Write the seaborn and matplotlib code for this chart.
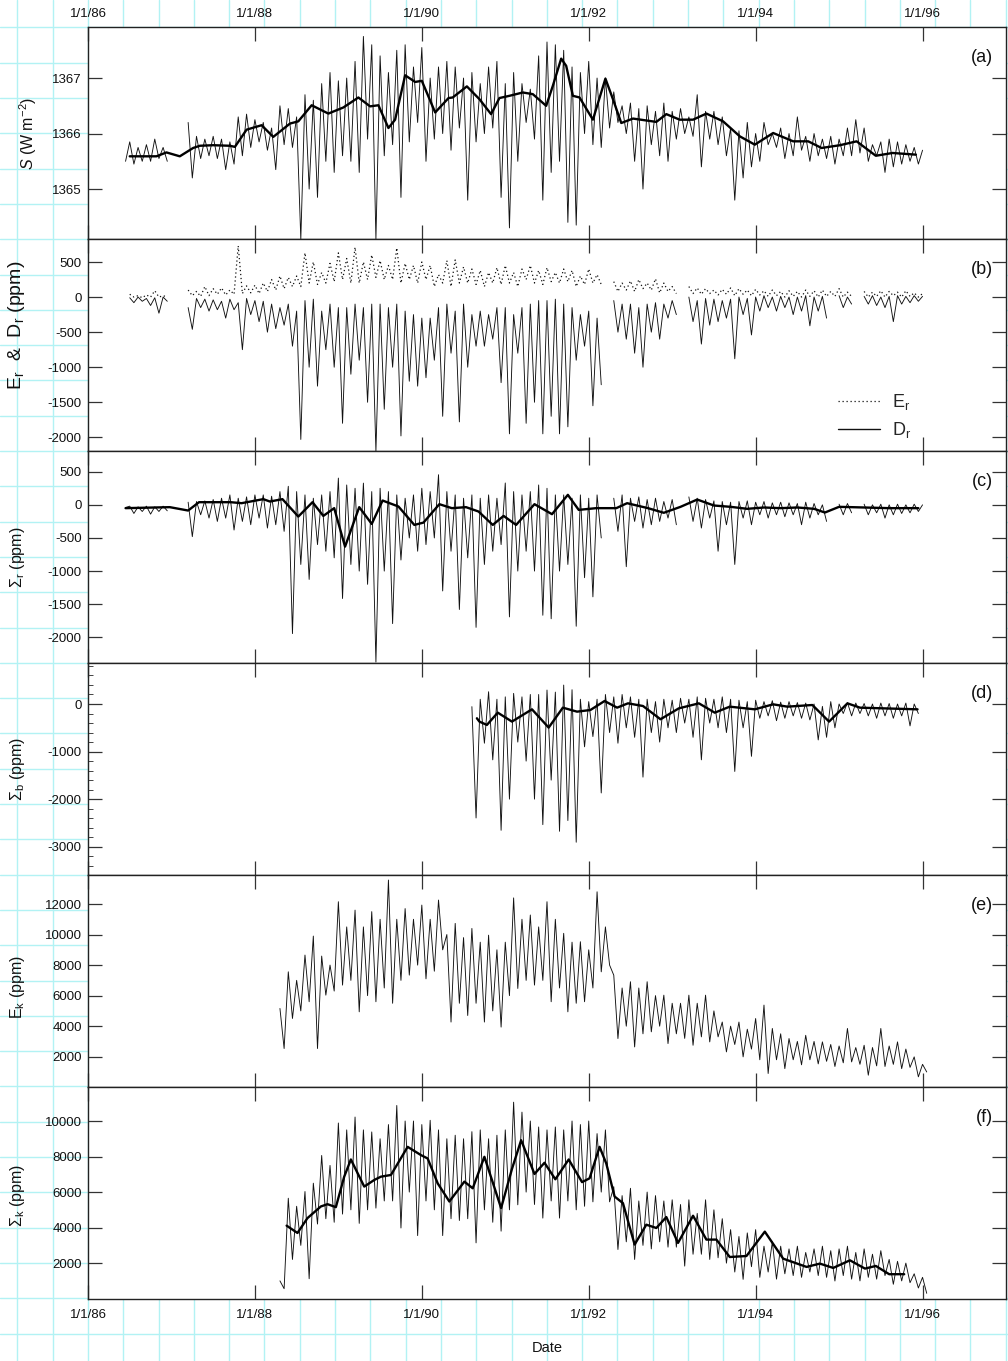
import numpy as np
import pandas as pd
import matplotlib
matplotlib.use("Agg")
import matplotlib.pyplot as plt
from matplotlib.lines import Line2D
from matplotlib.ticker import MultipleLocator
import seaborn as sns

nan = np.nan

# ---------------- data ----------------
# sampling grid of the daily records (decimal years, 0.1 yr cells; hi at cell start, lo at mid-cell)
grid_start, grid_step, grid_n = 1986.4, 0.1, 97

year_ticks = [1986, 1988, 1990, 1992, 1994, 1996]
year_labels = ["1/1/86", "1/1/88", "1/1/90", "1/1/92", "1/1/94", "1/1/96"]

# (a) total solar irradiance S (W m-2): upper / lower excursions per cell
a_hi = [nan, 1365.85, 1365.75, 1365.80, 1365.90, 1365.75,
        nan, nan, 1366.20, 1365.95, 1365.90, 1365.95, 1365.90, 1365.85, 1366.30, 1366.35,
        1366.25, 1366.20, 1366.10, 1366.50, 1366.45, 1366.30, 1366.70, 1366.60, 1366.90, 1367.10,
        1366.95, 1367.00, 1367.30, 1367.75, 1367.60, 1367.40, 1367.10, 1367.50, 1367.60, 1367.20,
        1367.55, 1367.00, 1367.20, 1367.30, 1367.20, 1367.00, 1367.10, 1366.90, 1367.20, 1367.30,
        1366.90, 1367.10, 1366.90, 1366.80, 1367.40, 1367.65, 1367.60, 1367.50, 1367.20, 1367.10,
        1367.30, 1367.00, 1367.00, 1366.75, 1366.50, 1366.55, 1366.45, 1366.50, 1366.40, 1366.55,
        1366.40, 1366.45, 1366.30, 1366.70, 1366.40, 1366.40, 1366.30, 1366.10, 1366.05, 1366.20,
        1366.00, 1366.20, 1366.00, 1366.10, 1366.00, 1366.30, 1365.95, 1366.00, 1365.90, 1365.95,
        1365.90, 1366.10, 1366.25, 1366.10, 1365.80, 1365.85, 1365.90, 1365.85, 1365.80, 1365.75,
        1365.70]
a_lo = [1365.50, 1365.45, 1365.50, 1365.50, 1365.55, 1365.50,
        nan, nan, 1365.20, 1365.55, 1365.60, 1365.55, 1365.35, 1365.45, 1365.60, 1365.75,
        1365.85, 1365.70, 1365.35, 1365.80, 1365.75, 1364.10, 1365.00, 1364.85, 1365.50, 1365.30,
        1365.60, 1365.50, 1365.30, 1365.90, 1364.10, 1365.60, 1365.80, 1364.85, 1365.85, 1366.20,
        1365.50, 1365.90, 1366.00, 1365.70, 1366.10, 1364.80, 1365.85, 1366.00, 1366.10, 1364.85,
        1364.30, 1365.50, 1366.20, 1365.90, 1364.80, 1365.30, 1365.50, 1364.40, 1364.35, 1366.00,
        1365.80, 1365.75, 1366.10, 1366.20, 1366.00, 1365.50, 1365.00, 1365.80, 1365.60, 1365.50,
        1365.90, 1366.00, 1365.95, 1365.40, 1365.90, 1365.80, 1365.60, 1364.80, 1365.20, 1365.40,
        1365.50, 1365.80, 1365.75, 1365.55, 1365.60, 1365.70, 1365.50, 1365.60, 1365.55, 1365.45,
        1365.60, 1365.60, 1365.65, 1365.50, 1365.60, 1365.30, 1365.40, 1365.45, 1365.50, 1365.45,
        nan]
a_smooth = [(1986.50, 1365.59), (1986.82, 1365.59), (1986.94, 1365.66), (1987.10, 1365.59),
            (1987.26, 1365.74), (1987.34, 1365.78), (1987.50, 1365.79), (1987.70, 1365.78),
            (1987.76, 1365.76), (1987.90, 1366.07), (1988.08, 1366.15), (1988.22, 1365.94),
            (1988.42, 1366.18), (1988.52, 1366.22), (1988.68, 1366.51), (1988.88, 1366.36),
            (1989.06, 1366.47), (1989.24, 1366.65), (1989.38, 1366.49), (1989.48, 1366.51),
            (1989.60, 1366.10), (1989.68, 1366.25), (1989.80, 1367.05), (1989.92, 1366.93),
            (1990.00, 1366.95), (1990.16, 1366.38), (1990.32, 1366.64), (1990.37, 1366.65),
            (1990.54, 1366.85), (1990.69, 1366.62), (1990.83, 1366.35), (1990.93, 1366.64),
            (1991.05, 1366.68), (1991.21, 1366.74), (1991.33, 1366.71), (1991.49, 1366.50),
            (1991.57, 1366.86), (1991.67, 1367.35), (1991.73, 1367.22), (1991.81, 1366.68),
            (1991.89, 1366.65), (1992.05, 1366.25), (1992.20, 1366.99), (1992.29, 1366.62),
            (1992.39, 1366.19), (1992.53, 1366.27), (1992.81, 1366.21), (1992.93, 1366.35),
            (1993.09, 1366.25), (1993.25, 1366.25), (1993.41, 1366.36), (1993.61, 1366.22),
            (1993.81, 1365.95), (1993.99, 1365.80), (1994.21, 1366.01), (1994.45, 1365.86),
            (1994.63, 1365.86), (1994.79, 1365.74), (1995.01, 1365.79), (1995.21, 1365.86),
            (1995.44, 1365.60), (1995.64, 1365.65), (1995.92, 1365.62)]

# (b) D_r (solid) and E_r (dotted), ppm
dr_hi = [nan, -10, 0, -20, -10, 0,
         nan, nan, -150, -20, -30, -40, -60, -30, -80, -20,
         -50, -60, -100, -150, -100, -200, -50, -30, -200, -100,
         -150, -150, -100, -150, -100, -100, -150, -100, -200, -250,
         -300, -300, -150, -100, -200, -100, -250, -200, -250, -150,
         -150, -250, -150, -100, -50, -50, -30, -100, -150, -250,
         -200, -300, nan, -50, -100, -100, -150, -100, -80, -100,
         -50, nan, 0, -50, -20, -30, -50, -30, 0, -20,
         0, 20, 0, 10, 0, 0, 20, 0, 10, nan,
         20, 0, nan, 10, 20, 0, 10, 20, 10, 20,
         10]
dr_lo = [nan, -80, -60, -120, -230, -60,
         nan, nan, -460, -150, -200, -180, -300, -180, -750, -250,
         -350, -500, -450, -400, -700, -2030, -1000, -1270, -750, -1000,
         -1800, -1100, -900, -1500, -2200, -1600, -1000, -1980, -1200, -1270,
         -1150, -900, -1700, -800, -1780, -1000, -700, -700, -600, -1220,
         -1950, -800, -1800, -1500, -1950, -1700, -1950, -1850, -900, -700,
         -1550, -1250, nan, -500, -600, -800, -1000, -500, -600, -300,
         -250, nan, -350, -670, -400, -350, -300, -880, -250, -540,
         -200, -150, -200, -150, -250, -200, -410, -200, -300, nan,
         -150, -100, nan, -100, -120, -150, -350, -100, -80, -60,
         nan]
er_hi = [nan, 40, 20, 30, 90, 20,
         nan, nan, 100, 80, 150, 120, 130, 100, 730, 160,
         170, 200, 250, 300, 280, 300, 630, 500, 350, 480,
         630, 550, 710, 500, 600, 520, 450, 700, 480, 450,
         500, 450, 320, 520, 530, 430, 400, 380, 350, 420,
         450, 350, 400, 450, 380, 420, 350, 400, 380, 300,
         400, 320, nan, 220, 200, 230, 250, 200, 260, 200,
         150, nan, 150, 130, 120, 100, 110, 130, 120, 100,
         110, 90, 100, 80, 90, 80, 100, 90, 100, 80,
         120, 70, nan, 80, 70, 90, 80, 70, 90, 60,
         50]
er_lo = [nan, 0, -10, 0, 0, 0,
         nan, nan, 20, 10, 20, 40, 30, 40, 50, 60,
         50, 80, 100, 120, 150, 150, 200, 180, 200, 220,
         250, 200, 200, 250, 280, 250, 250, 200, 250, 200,
         250, 150, 200, 150, 200, 200, 180, 150, 200, 180,
         200, 150, 250, 200, 180, 220, 200, 220, 150, 180,
         200, 180, nan, 80, 100, 80, 120, 100, 60, 80,
         50, nan, 50, 40, 50, 30, 40, 20, 40, 20,
         30, 10, 20, 0, 10, 0, 10, 0, 10, 10,
         0, 10, nan, 0, 10, 0, 20, 0, 10, 0,
         nan]

# (c) Sigma_r, ppm
c_hi = [nan, -20, -30, -20, -30, -20,
        nan, nan, 40, 50, 60, 80, 100, 150, 100, 120,
        150, 150, 130, 200, 280, 200, 150, 100, 150, 200,
        404, 300, 250, 328, 200, 250, 200, 150, 100, 150,
        250, 200, 455, 200, 150, 100, 150, 100, 150, 100,
        330, 200, 150, 200, 300, 250, 150, 150, 100, 150,
        100, 150, nan, 100, 150, 100, 120, 80, 100, 50,
        80, nan, 120, 100, 80, 60, 50, 40, 50, 60,
        40, 50, 30, 40, 30, 20, 40, 20, 0, nan,
        10, 20, nan, 10, 0, 10, 0, 10, 0, 10,
        0]
c_lo = [-40, -130, -100, -140, -100, -90,
        nan, nan, -480, -150, -200, -250, -200, -380, -250, -300,
        -200, -350, -300, -400, -1944, -900, -1126, -600, -700, -800,
        -1414, -900, -1000, -1200, -2374, -1000, -1793, -833, -500, -700,
        -600, -500, -1300, -700, -1580, -800, -1850, -900, -700, -600,
        -1692, -1000, -700, -1000, -1667, -1720, -1000, -900, -1833, -1100,
        -1389, -500, nan, -400, -934, -250, -350, -300, -250, -200,
        -300, nan, -250, -350, -200, -700, -300, -900, -200, -300,
        -150, -200, -150, -180, -150, -300, -200, -150, -250, nan,
        -150, -120, nan, -150, -120, -200, -150, -130, -120, -100,
        nan]
c_smooth = [(1986.45, -50), (1986.98, -35), (1987.20, -86), (1987.33, 40), (1987.71, 40),
            (1987.84, 25), (1988.10, 86), (1988.18, 50), (1988.33, 86), (1988.52, -177),
            (1988.69, 40), (1988.82, -167), (1988.95, -50), (1989.08, -631), (1989.25, -35),
            (1989.40, -288), (1989.53, 65), (1989.72, -25), (1989.91, -303), (1990.02, -268),
            (1990.21, 10), (1990.36, -50), (1990.53, -35), (1990.68, -101), (1990.85, -303),
            (1990.98, -167), (1991.13, -303), (1991.35, 10), (1991.56, -141), (1991.75, 151),
            (1991.88, -76), (1992.09, -50), (1992.33, -50), (1992.46, 25), (1992.71, -50),
            (1992.90, -120), (1993.10, -30), (1993.30, 80), (1993.50, -10), (1993.70, -30),
            (1993.90, -60), (1994.10, -40), (1994.30, -50), (1994.50, -40), (1994.70, -60),
            (1994.83, -116), (1995.00, -30), (1995.30, -40), (1995.60, -50), (1995.95, -50)]

# (d) Sigma_b, ppm
d_hi = [nan] * 6 + [nan] * 30 + [
        nan, nan, nan, nan, nan, nan, -56, 100, 258, 100,
        150, 223, 150, 200, 200, 293, 250, 398, 300, 100,
        50, 100, 200, 150, 200, 150, 100, 100, 50, 100,
        80, 120, 100, 150, 120, 100, 150, 100, 80, 50,
        80, 50, 70, 40, 50, 30, 20, 0, -50, 50,
        0, 30, 20, 10, 0, 20, 10, 0, 20, 0,
        nan]
d_lo = [nan] * 6 + [nan] * 30 + [
        nan, nan, nan, nan, nan, nan, -2396, -824, -1174, -2655,
        -2000, -800, -1200, -2000, -2536, -1600, -2676, -2450, -2906, -900,
        -685, -1870, -600, -824, -500, -700, -1537, -600, -800, -500,
        -600, -400, -700, -1174, -400, -500, -600, -1418, -500, -1100,
        -300, -250, -350, -300, -250, -300, -335, -755, -700, -500,
        -200, -250, -200, -250, -300, -250, -300, -250, -460, -200,
        nan]
d_smooth = [(1990.66, -300), (1990.69, -370), (1990.78, -440), (1990.91, -182), (1991.08, -370),
            (1991.32, -112), (1991.52, -496), (1991.69, -77), (1991.86, -161), (1992.02, -126),
            (1992.19, 63), (1992.34, -77), (1992.47, 14), (1992.65, -42), (1992.86, -321),
            (1993.08, -91), (1993.32, 14), (1993.51, -182), (1993.69, -56), (1993.99, -112),
            (1994.21, -7), (1994.38, -56), (1994.68, -21), (1994.88, -370), (1995.10, 14),
            (1995.25, -77), (1995.94, -112)]

# (e) E_k, ppm
e_hi = [nan] * 6 + [nan] * 10 + [
        nan, nan, nan, 5160, 7560, 7000, 8656, 9900, 8590, 8000,
        12150, 10500, 11600, 10500, 11500, 11000, 13570, 11000, 11700, 11000,
        11930, 11000, 12260, 10000, 10730, 9800, 10400, 9500, 9960, 9000,
        9500, 12400, 11000, 11280, 10500, 12150, 11000, 10080, 9500, 9530,
        9000, 12800, 10500, 7340, 6500, 6910, 6500, 6910, 6000, 6030,
        5500, 5500, 6030, 5500, 6030, 5000, 4270, 4000, 4270, 3800,
        4500, 5380, 3850, 3500, 3190, 3000, 3400, 3000, 2970, 2800,
        2700, 3850, 2600, 2750, 2600, 3850, 2700, 2970, 2500, 1990,
        1500]
e_lo = [nan] * 6 + [nan] * 10 + [
        nan, nan, nan, 2535, 4505, 5000, 5600, 2535, 6033, 6300,
        6689, 7000, 4940, 6000, 5600, 6500, 5500, 7000, 7344, 8000,
        7100, 7600, 9000, 4270, 5500, 4700, 5500, 4270, 5000, 3940,
        6000, 6470, 7000, 6690, 7000, 5600, 6500, 4940, 5500, 5600,
        6500, 7560, 8000, 3190, 4000, 2640, 3500, 3630, 4000, 2860,
        3500, 3200, 2750, 3300, 2970, 3300, 2316, 2800, 1990, 2500,
        1800, 900, 1800, 1220, 1800, 1470, 1800, 1530, 1700, 1360,
        1600, 1660, 1500, 790, 1400, 1360, 1500, 1220, 1300, 680,
        1000]

# (f) Sigma_k, ppm
f_hi = [nan] * 6 + [nan] * 10 + [
        nan, nan, nan, 1000, 5653, 5200, 6030, 6500, 8060, 7500,
        9888, 9500, 10224, 9500, 9385, 9000, 9800, 10875, 10000, 10000,
        9800, 10040, 9500, 9000, 9200, 9000, 9400, 9500, 9000, 9200,
        9500, 11060, 10500, 10000, 9664, 9500, 9664, 9500, 10000, 9800,
        10000, 9290, 9500, 6300, 5800, 6213, 5500, 6000, 5800, 5500,
        5564, 5300, 5564, 4800, 5564, 5000, 4500, 3885, 3500, 3700,
        3885, 2952, 3200, 2952, 2800, 2952, 2600, 2800, 2952, 2700,
        2800, 2952, 2600, 2800, 2500, 2700, 2207, 2100, 2000, 1400,
        1200]
f_lo = [nan] * 6 + [nan] * 10 + [
        nan, nan, nan, 560, 2207, 3000, 1122, 4200, 4500, 4300,
        4760, 5000, 4238, 5000, 5097, 5500, 5500, 3977, 6000, 3550,
        5500, 5000, 3550, 4500, 4400, 4500, 3140, 5000, 4300, 3800,
        5000, 5283, 6000, 5300, 4535, 5500, 4535, 5500, 5000, 5200,
        5450, 6000, 5450, 2767, 3200, 2207, 3000, 2800, 3200, 2900,
        2900, 1833, 2500, 2500, 2207, 2300, 2000, 1500, 1087, 1800,
        1200, 1500, 1100, 1400, 1300, 1200, 1500, 1300, 1200, 994,
        1300, 1100, 1000, 1200, 1100, 1300, 810, 1000, 900, 600,
        300]
f_smooth = [(1988.38, 4109), (1988.51, 3697), (1988.63, 4535), (1988.79, 5189), (1988.87, 5318),
            (1988.97, 5151), (1989.07, 6867), (1989.15, 7835), (1989.31, 6308), (1989.43, 6681),
            (1989.51, 6867), (1989.63, 6962), (1989.83, 8546), (1989.99, 8081), (1990.07, 7891),
            (1990.19, 6493), (1990.33, 5469), (1990.51, 6588), (1990.61, 6213), (1990.75, 7986),
            (1990.95, 5097), (1991.08, 7300), (1991.19, 8920), (1991.35, 7018), (1991.47, 7650),
            (1991.60, 6719), (1991.76, 7835), (1991.92, 6560), (1992.01, 6774), (1992.13, 8546),
            (1992.21, 7611), (1992.31, 5749), (1992.41, 5376), (1992.55, 3045), (1992.69, 4164),
            (1992.81, 3977), (1992.93, 4592), (1993.07, 3138), (1993.25, 4667), (1993.41, 3324),
            (1993.53, 3324), (1993.69, 2344), (1993.89, 2400), (1994.11, 3772), (1994.33, 2251),
            (1994.61, 1786), (1994.77, 1972), (1994.93, 1730), (1995.13, 2158), (1995.31, 1692),
            (1995.44, 1841), (1995.60, 1376), (1995.78, 1376)]

ylabels = ["$S$ (W m$^{-2}$)",
           "E$_\\mathrm{r}$  &  D$_\\mathrm{r}$ (ppm)",
           "\u03a3$_\\mathrm{r}$ (ppm)",
           "\u03a3$_\\mathrm{b}$ (ppm)",
           "E$_\\mathrm{k}$ (ppm)",
           "\u03a3$_\\mathrm{k}$ (ppm)"]
panel_tags = ["(a)", "(b)", "(c)", "(d)", "(e)", "(f)"]
ylims = [(1364.10, 1367.92), (-2195, 828), (-2388, 813), (-3595, 862), (16, 13900), (-20, 11915)]
yticks = [[1365, 1366, 1367],
          [-2000, -1500, -1000, -500, 0, 500],
          [-2000, -1500, -1000, -500, 0, 500],
          [-3000, -2000, -1000, 0],
          [2000, 4000, 6000, 8000, 10000, 12000],
          [2000, 4000, 6000, 8000, 10000]]

for name, arr in [("a_hi", a_hi), ("a_lo", a_lo), ("dr_hi", dr_hi), ("dr_lo", dr_lo),
                  ("er_hi", er_hi), ("er_lo", er_lo), ("c_hi", c_hi), ("c_lo", c_lo),
                  ("d_hi", d_hi), ("d_lo", d_lo), ("e_hi", e_hi), ("e_lo", e_lo),
                  ("f_hi", f_hi), ("f_lo", f_lo)]:
    assert len(arr) == grid_n, (name, len(arr))

# ---------------- style ----------------
sns.set_theme(style="ticks")
plt.rcParams['font.family'] = ['Liberation Sans', 'DejaVu Sans']
plt.rcParams['mathtext.fontset'] = 'custom'
plt.rcParams['mathtext.rm'] = 'Liberation Sans'
plt.rcParams['mathtext.it'] = 'Liberation Sans:italic'
plt.rcParams['mathtext.bf'] = 'Liberation Sans:bold'
plt.rcParams['axes.unicode_minus'] = False

T = np.round(grid_start + grid_step * np.arange(grid_n), 2)


def zigzag_frame(hi, lo):
    x = np.column_stack([T, T + grid_step / 2]).ravel()
    y = np.column_stack([np.asarray(hi, float), np.asarray(lo, float)]).ravel()
    df = pd.DataFrame({"t": x, "v": y})
    df["seg"] = df["v"].isna().cumsum()
    return df.dropna()


def draw_noise(ax, hi, lo, **kw):
    sns.lineplot(data=zigzag_frame(hi, lo), x="t", y="v", units="seg", estimator=None,
                 sort=False, ax=ax, legend=False, **kw)


def draw_smooth(ax, pairs):
    df = pd.DataFrame(pairs, columns=["t", "v"])
    sns.lineplot(data=df, x="t", y="v", estimator=None, sort=False, ax=ax,
                 color="black", linewidth=1.7)


W, H = 1008, 1361
fig = plt.figure(figsize=(W / 100, H / 100), dpi=100)

# graph-paper background
bg = fig.add_axes([0, 0, 1, 1], zorder=-10)
bg.set_xlim(0, W)
bg.set_ylim(H, 0)
bg.axis("off")
for gx in np.arange(17.4, W, 35.3):
    bg.axvline(gx, color="#b2f2f4", lw=1.0)
for gy in np.arange(27.4, H, 35.3):
    bg.axhline(gy, color="#b2f2f4", lw=1.0)

left, right, top0, ph = 88, 1006, 27, 212
axes = []
for k in range(6):
    ax = fig.add_axes([left / W, 1 - (top0 + ph * (k + 1)) / H, (right - left) / W, ph / H])
    ax.set_facecolor("white")
    axes.append(ax)

noise_kw = dict(color="#111111", linewidth=0.65)
draw_noise(axes[0], a_hi, a_lo, **noise_kw)
draw_smooth(axes[0], a_smooth)

draw_noise(axes[1], er_hi, er_lo, color="#111111", linewidth=0.9, linestyle=(0, (1, 2.2)))
draw_noise(axes[1], dr_hi, dr_lo, **noise_kw)

draw_noise(axes[2], c_hi, c_lo, **noise_kw)
draw_smooth(axes[2], c_smooth)

draw_noise(axes[3], d_hi, d_lo, **noise_kw)
draw_smooth(axes[3], d_smooth)

draw_noise(axes[4], e_hi, e_lo, **noise_kw)

draw_noise(axes[5], f_hi, f_lo, **noise_kw)
draw_smooth(axes[5], f_smooth)

label_x = [39, 27, 27, 27, 27, 27]
label_y = [0.5, 0.594, 0.5, 0.5, 0.47, 0.49]
label_size = [11.5, 14.0, 11.5, 11.5, 11.5, 11.5]
for k, ax in enumerate(axes):
    ax.set_xlim(1986, 1997)
    ax.set_xticks(year_ticks)
    ax.set_xticklabels(year_labels)
    ax.set_ylim(*ylims[k])
    ax.set_yticks(yticks[k])
    ax.set_yticklabels([str(v) for v in yticks[k]])
    ax.set_xlabel("")
    ax.set_ylabel(ylabels[k], fontsize=label_size[k], color="#111111")
    ax.yaxis.set_label_coords((label_x[k] - left) / (right - left), label_y[k])
    ax.tick_params(axis="both", which="major", direction="in", length=10, width=0.9,
                   color="#333333", labelcolor="#111111", labelsize=9.5,
                   top=True, bottom=True, left=True, right=True)
    ax.tick_params(axis="y", pad=4.5)
    ax.tick_params(axis="x", labeltop=(k == 0), labelbottom=(k == 5), pad=5 if k == 0 else 7)
    for sp in ax.spines.values():
        sp.set_visible(True)
        sp.set_linewidth(1.0)
        sp.set_color("#222222")
    ax.text(0.986, 0.858, panel_tags[k], transform=ax.transAxes, ha="right", va="center",
            fontsize=13, color="#111111")

axes[3].yaxis.set_minor_locator(MultipleLocator(200))
axes[3].tick_params(axis="y", which="minor", direction="in", length=3.5, width=0.7,
                    color="#444444", left=True, right=False)

axes[5].set_xlabel("Date", fontsize=10.5, color="#111111")
axes[5].xaxis.set_label_coords(0.5, -(1341 - 1299) / 212)

handles = [Line2D([], [], color="#111111", linewidth=0.9, linestyle=(0, (1, 2.2))),
           Line2D([], [], color="#111111", linewidth=1.0)]
axes[1].legend(handles, ["E$_\\mathrm{r}$", "D$_\\mathrm{r}$"], loc="center left",
               bbox_to_anchor=((838 - left) / (right - left), 0.165), frameon=False,
               fontsize=13, handlelength=2.3, handletextpad=0.7, labelspacing=0.45,
               borderpad=0, borderaxespad=0)

fig.savefig("out.png", dpi=100, facecolor="white")
